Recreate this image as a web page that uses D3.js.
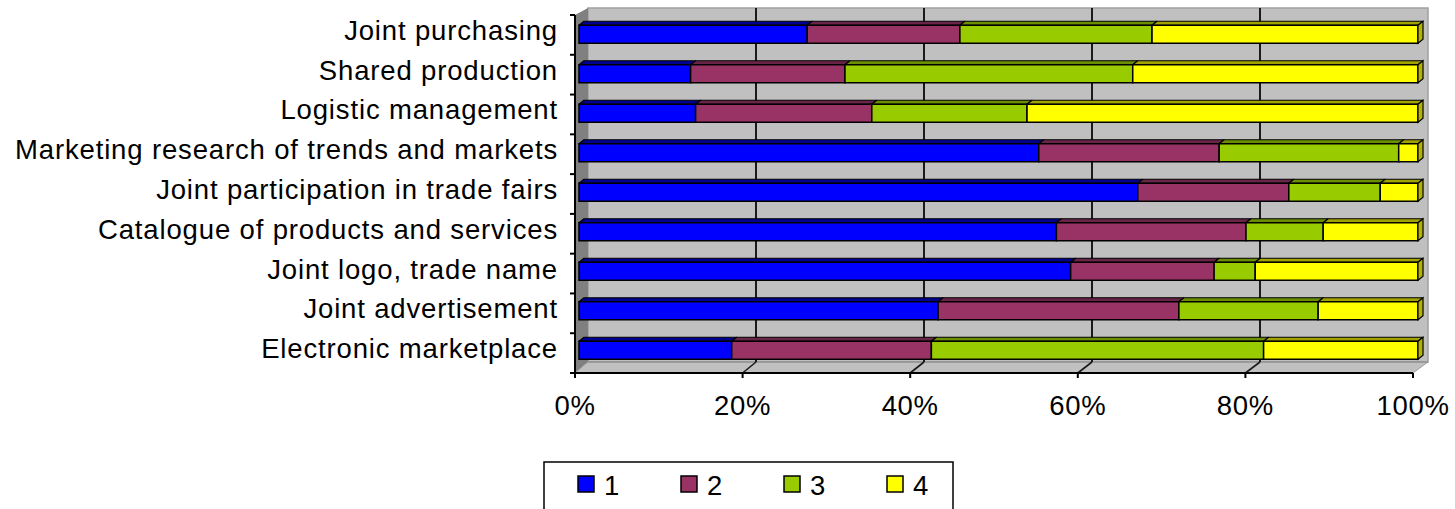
<!DOCTYPE html>
<html>
<head>
<meta charset="utf-8">
<script src="https://cdn.jsdelivr.net/npm/d3@7"></script>
<style>
  html, body { margin: 0; padding: 0; background: #fff; }
  svg { display: block; }
  text { font-family: "Liberation Sans", Arial, sans-serif; fill: #000; }
</style>
</head>
<body>
<div id="chart"></div>
<script>
// ---- data ----
const categories = [
  "Joint purchasing",
  "Shared production",
  "Logistic management",
  "Marketing research of trends and markets",
  "Joint participation in trade fairs",
  "Catalogue of products and services",
  "Joint logo, trade name",
  "Joint advertisement",
  "Electronic marketplace"
];
const seriesNames = ["1", "2", "3", "4"];
const series1 = [27.2, 13.3, 13.9, 54.8, 66.6, 56.9, 58.6, 42.8, 18.2];
const series2 = [18.2, 18.4, 21.0, 21.5, 18.0, 22.6, 17.1, 28.7, 23.8];
const series3 = [22.9, 34.3, 18.5, 21.4, 10.9,  9.2,  4.9, 16.6, 39.6];
const series4 = [31.7, 34.0, 46.6,  2.3,  4.5, 11.3, 19.4, 11.9, 18.4];
const xTicks = [0, 20, 40, 60, 80, 100];
const tickLabels = ["0%", "20%", "40%", "60%", "80%", "100%"];

const colors = ["#0000FF", "#993366", "#99CC00", "#FFFF00"];
const topColors = ["#000090", "#6a2447", "#6b8f00", "#a3a300"];
const sideColors = ["#0000b0", "#7a2952", "#7aa300", "#b3b300"];

const W = 1455, H = 509;
const svg = d3.select("#chart").append("svg").attr("width", W).attr("height", H);

// scales
const xFront = d3.scaleLinear().domain([0, 100]).range([575, 1413]);
const xBack  = d3.scaleLinear().domain([0, 100]).range([588, 1428]);
const xBar   = d3.scaleLinear().domain([0, 100]).range([579, 1418]);
const yAxis  = d3.scaleBand().domain(categories).range([15, 373]);
const yBar   = d3.scaleBand().domain(categories).range([14.5, 370]).paddingInner(0.544).paddingOuter(0.272);

const wallTop = 8, wallBottom = 362, floorFront = 373;
const dX = 5, dY = 4;

// back wall
svg.append("rect")
  .attr("x", xBack(0)).attr("y", wallTop)
  .attr("width", xBack(100) - xBack(0)).attr("height", wallBottom - wallTop)
  .attr("fill", "#C0C0C0").attr("stroke", "#a0a0a0").attr("stroke-width", 1.5);

// left side wall
svg.append("polygon")
  .attr("points", [[xFront(0), 15], [xBack(0), wallTop], [xBack(0), wallBottom], [xFront(0), floorFront]].map(p => p.join(",")).join(" "))
  .attr("fill", "#808080");

// floor
svg.append("polygon")
  .attr("points", [[xFront(0), floorFront], [xBack(0), wallBottom], [xBack(100), wallBottom], [xFront(100), floorFront]].map(p => p.join(",")).join(" "))
  .attr("fill", "#C0C0C0").attr("stroke", "#a0a0a0").attr("stroke-width", 1);
svg.append("line")
  .attr("x1", xBack(0)).attr("x2", xBack(100)).attr("y1", wallBottom).attr("y2", wallBottom)
  .attr("stroke", "#888").attr("stroke-width", 1);

// gridlines on back wall
const gridVals = xTicks.filter(v => v > 0 && v < 100);
svg.selectAll("line.grid").data(gridVals).enter().append("line")
  .attr("class", "grid")
  .attr("x1", d => xBack(d)).attr("x2", d => xBack(d))
  .attr("y1", wallTop).attr("y2", wallBottom)
  .attr("stroke", "#1a1a1a").attr("stroke-width", 2);
// gridlines on floor
svg.selectAll("line.fgrid").data(gridVals).enter().append("line")
  .attr("class", "fgrid")
  .attr("x1", d => xBack(d)).attr("x2", d => xFront(d))
  .attr("y1", wallBottom).attr("y2", floorFront)
  .attr("stroke", "#1a1a1a").attr("stroke-width", 1.6);

// stacked data
const allSeries = [series1, series2, series3, series4];
const rows = categories.map((c, i) => {
  let acc = 0;
  return allSeries.map((s, k) => {
    const seg = { cat: c, k, x0: acc, x1: acc + s[i] };
    acc += s[i];
    return seg;
  });
});

const barsG = svg.append("g");
rows.forEach(segs => {
  const g = barsG.append("g");
  const cat = segs[0].cat;
  const y0 = yBar(cat), h = yBar.bandwidth();
  const total = segs[segs.length - 1].x1;
  segs.forEach(s => {
    const a = xBar(s.x0 / total * 100), b = xBar(s.x1 / total * 100);
    g.append("polygon")
      .attr("points", [[a, y0], [a + dX, y0 - dY], [b + dX, y0 - dY], [b, y0]].map(p => p.join(",")).join(" "))
      .attr("fill", topColors[s.k]).attr("stroke", "#000").attr("stroke-width", 1.2).attr("stroke-linejoin", "round");
  });
  segs.forEach(s => {
    const a = xBar(s.x0 / total * 100), b = xBar(s.x1 / total * 100);
    g.append("rect")
      .attr("x", a).attr("y", y0).attr("width", b - a).attr("height", h)
      .attr("fill", colors[s.k]).attr("stroke", "#000").attr("stroke-width", 1.5);
  });
  const last = segs[segs.length - 1];
  const e = xBar(100);
  g.append("polygon")
    .attr("points", [[e, y0], [e + dX, y0 - dY], [e + dX, y0 + h - dY], [e, y0 + h]].map(p => p.join(",")).join(" "))
    .attr("fill", sideColors[last.k]).attr("stroke", "#000").attr("stroke-width", 1.2);
});

// y axis line and ticks
svg.append("line")
  .attr("x1", xFront(0)).attr("x2", xFront(0)).attr("y1", 15).attr("y2", floorFront)
  .attr("stroke", "#000").attr("stroke-width", 2);
const yTickPos = categories.map(c => yAxis(c)).concat([yAxis.range()[1]]);
svg.selectAll("line.ytick").data(yTickPos).enter().append("line")
  .attr("x1", xFront(0) - 5).attr("x2", xFront(0)).attr("y1", d => d).attr("y2", d => d)
  .attr("stroke", "#000").attr("stroke-width", 2);

// category labels
svg.selectAll("text.cat").data(categories).enter().append("text")
  .attr("class", "cat")
  .attr("x", 558)
  .attr("y", d => yAxis(d) + yAxis.bandwidth() / 2 + 5)
  .attr("text-anchor", "end")
  .style("font-size", "27.5px")
  .style("letter-spacing", "0.85px")
  .text(d => d);

// x axis line and ticks
svg.append("line")
  .attr("x1", xFront(0)).attr("x2", xFront(100)).attr("y1", floorFront).attr("y2", floorFront)
  .attr("stroke", "#000").attr("stroke-width", 2);
svg.selectAll("line.xtick").data(xTicks).enter().append("line")
  .attr("x1", d => xFront(d)).attr("x2", d => xFront(d)).attr("y1", floorFront).attr("y2", floorFront + 5)
  .attr("stroke", "#000").attr("stroke-width", 2);
svg.selectAll("text.xlab").data(xTicks).enter().append("text")
  .attr("x", d => xFront(d)).attr("y", 415)
  .attr("text-anchor", "middle")
  .style("font-size", "27.5px")
  .style("letter-spacing", "0.7px")
  .text((d, i) => tickLabels[i]);

// legend
svg.append("rect")
  .attr("x", 544).attr("y", 462).attr("width", 409).attr("height", 70)
  .attr("fill", "#fff").attr("stroke", "#000").attr("stroke-width", 1.5);
const leg = svg.selectAll("g.leg").data(seriesNames).enter().append("g")
  .attr("transform", (d, i) => `translate(${578 + 103 * i},476)`);
leg.append("rect").attr("width", 16).attr("height", 16)
  .attr("fill", (d, i) => colors[i]).attr("stroke", "#000").attr("stroke-width", 1.5);
leg.append("text").attr("x", 26).attr("y", 19)
  .style("font-size", "27.5px")
  .text(d => d);
</script>
</body>
</html>
